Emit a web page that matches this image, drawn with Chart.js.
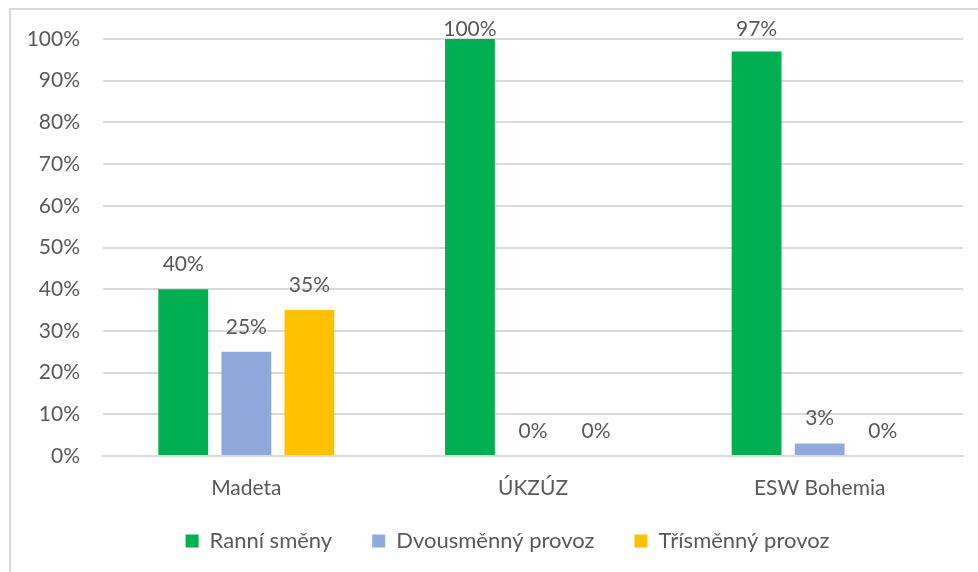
<!DOCTYPE html>
<html>
<head>
<meta charset="utf-8">
<script src="https://cdn.jsdelivr.net/npm/chart.js@4/dist/chart.umd.min.js"></script>
<style>
  html, body { margin:0; padding:0; background:#fff; }
  #wrap { position:absolute; left:0; top:0; width:978px; height:572px; }
  #frame { position:absolute; left:9px; top:8px; width:990px; height:600px; border:2px solid #d9d9d9; box-sizing:border-box; }
  canvas { position:absolute; left:0; top:0; }
</style>
</head>
<body>
<div id="wrap">
  <div id="frame"></div>
  <canvas id="c" width="978" height="572"></canvas>
</div>
<script>
const categories = ["Madeta", "ÚKZÚZ", "ESW Bohemia"];
const seriesNames = ["Ranní směny", "Dvousměnný provoz", "Třísměnný provoz"];
const ranni = [40, 100, 97];
const dvou = [25, 0, 3];
const tri = [35, 0, 0];
const yTicks = [0, 10, 20, 30, 40, 50, 60, 70, 80, 90, 100];

const colors = ["#00B050", "#8EA9DB", "#FFC000"];
const textColor = "#595959";
const FONT = "Lato, 'Open Sans', sans-serif";
const FS = 21;

const labelPlugin = {
  id: 'barLabels',
  afterDatasetsDraw(chart) {
    const ctx = chart.ctx;
    ctx.save();
    ctx.font = FS + "px " + FONT;
    ctx.fillStyle = textColor;
    ctx.textAlign = 'center';
    ctx.textBaseline = 'middle';
    chart.data.datasets.forEach((ds, i) => {
      const meta = chart.getDatasetMeta(i);
      meta.data.forEach((bar, j) => {
        let y = bar.y - 25;
        if (y < 29) y = 29;
        ctx.fillText(ds.data[j] + "%", bar.x, y);
      });
    });
    ctx.restore();
  }
};

const legendShift = {
  id: 'legendShift',
  afterLayout(chart) {
    const lg = chart.legend;
    if (!lg) return;
    lg.left += 26; lg.right += 26;
    lg.top -= 6; lg.bottom -= 6;
  }
};

new Chart(document.getElementById('c'), {
  type: 'bar',
  data: {
    labels: categories,
    datasets: [
      { label: seriesNames[0], data: ranni, backgroundColor: colors[0] },
      { label: seriesNames[1], data: dvou, backgroundColor: colors[1] },
      { label: seriesNames[2], data: tri, backgroundColor: colors[2] }
    ]
  },
  options: {
    responsive: false,
    animation: false,
    devicePixelRatio: 1,
    categoryPercentage: 0.66,
    barPercentage: 0.79,
    layout: { padding: { left: 0, right: 15, top: 39, bottom: 4 } },
    plugins: {
      tooltip: { enabled: false },
      legend: {
        position: 'bottom',
        labels: {
          boxWidth: 13, boxHeight: 13,
          padding: 40,
          color: textColor,
          font: { size: 22, family: FONT }
        }
      }
    },
    scales: {
      x: {
        grid: { display: false, drawTicks: false },
        border: { display: true, color: '#d9d9d9', width: 2 },
        ticks: { color: textColor, font: { size: FS, family: FONT }, padding: 20 },
        afterFit(s) { s.height = 40; }
      },
      y: {
        min: 0, max: 100,
        afterBuildTicks(s) { s.ticks = yTicks.map(v => ({ value: v })); },
        grid: { color: '#d9d9d9', lineWidth: 2, drawTicks: false },
        border: { display: false },
        ticks: {
          color: textColor, font: { size: FS, family: FONT }, padding: 23,
          callback: v => v + "%"
        },
        afterFit(s) { s.width = 103; }
      }
    }
  },
  plugins: [labelPlugin, legendShift]
});
</script>
</body>
</html>
